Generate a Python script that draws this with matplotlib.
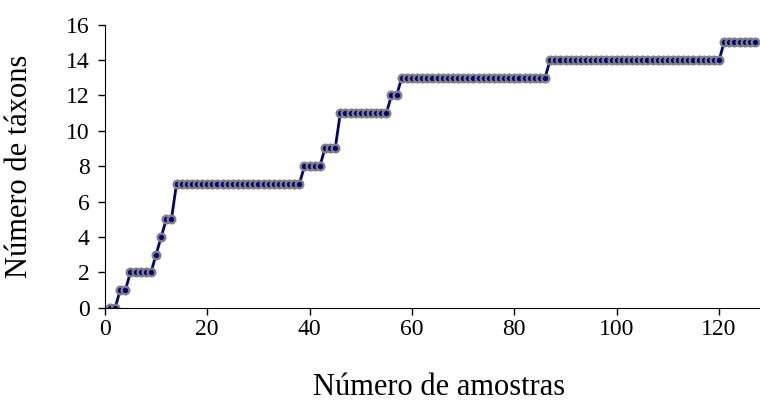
import numpy as np
import matplotlib
matplotlib.use("Agg")
import matplotlib.pyplot as plt

plt.rcParams['font.family'] = ['Liberation Serif', 'DejaVu Serif']

# taxa count per step: (last sample number, cumulative taxa)
step_ends = [2, 4, 9, 10, 11, 13, 38, 42, 45, 55, 57, 86, 120, 127]
step_vals = [0, 1, 2, 3, 4, 5, 7, 8, 9, 11, 12, 13, 14, 15]

samples = np.arange(1, step_ends[-1] + 1)
taxa = []
prev = 0
for end, v in zip(step_ends, step_vals):
    taxa += [v] * (end - prev)
    prev = end

fig = plt.figure(figsize=(7.6, 4.17), dpi=100)
ax = fig.add_axes([0.138, 0.262, 0.862, 0.679])

ax.plot(samples, taxa, color="#000080", linewidth=2, marker="o", markersize=5.5,
        markerfacecolor="#000080", markeredgecolor="#808080", markeredgewidth=1.7)

ax.set_xlim(0, 128)
ax.set_ylim(0, 16)
ax.set_xticks(range(0, 121, 20))
ax.set_yticks(range(0, 17, 2))
ax.spines['top'].set_visible(False)
ax.spines['right'].set_visible(False)
ax.tick_params(labelsize=17, length=5, width=1)
ax.tick_params(axis='x', pad=3)
ax.tick_params(axis='y', pad=6)
ax.set_xlabel("Número de amostras", fontsize=22)
ax.set_ylabel("Número de táxons", fontsize=22)
ax.xaxis.set_label_coords(0.51, -0.23)
ax.yaxis.set_label_coords(-0.108, 0.5)

fig.savefig("out.png", dpi=100)
